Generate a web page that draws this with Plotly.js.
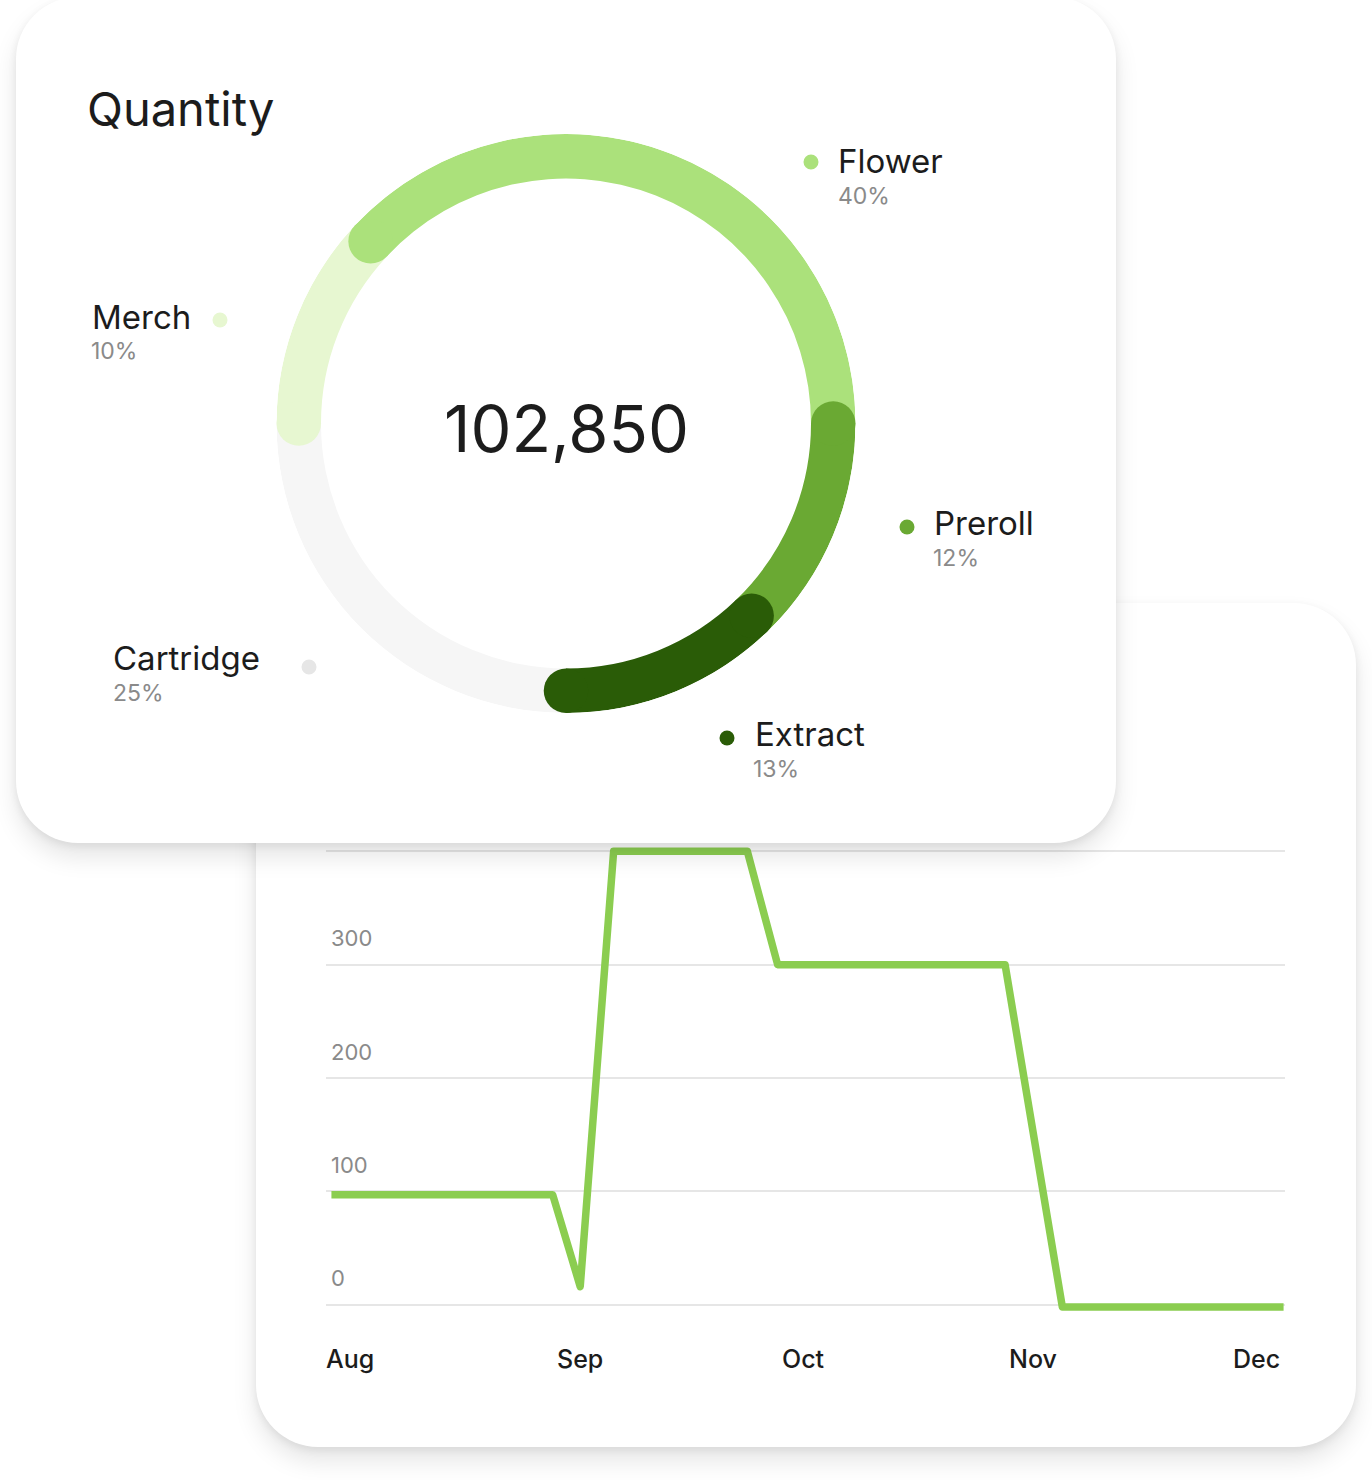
<!DOCTYPE html>
<html>
<head>
<meta charset="utf-8">
<script src="https://cdn.plot.ly/plotly-3.0.1.min.js"></script>
<style>
  html, body { margin: 0; padding: 0; background: #fff; width: 1372px; height: 1480px; overflow: hidden; }
  .card {
    position: absolute;
    background: #fff;
    border-radius: 62px;
    overflow: hidden;
    box-shadow: 0 14px 24px rgba(0, 0, 0, 0.10), 0 3px 8px rgba(0, 0, 0, 0.07);
  }
  #back { left: 256px; top: 603px; width: 1100px; height: 844px; z-index: 1; }
  #front { left: 16px; top: -3px; width: 1100px; height: 846px; z-index: 2; }
  #line path.js-line { stroke-linejoin: round !important; }
</style>
</head>
<body>
<div id="back" class="card"><div id="line"></div></div>
<div id="front" class="card"><div id="donut"></div></div>

<script>
// donut data
const categories = ['Cartridge', 'Merch', 'Flower', 'Preroll', 'Extract'];
const sliceQty = [25710, 12290, 39140, 13140, 12570];
const shareLabels = ['25%', '10%', '40%', '12%', '13%'];
const sliceColors = ['#f6f6f6', '#e7f7d1', '#abe17b', '#6aa933', '#2a5c07'];
const dotColors = ['#e6e6e6', '#e7f7d1', '#abe17b', '#6aa933', '#2a5c07'];
const totalQty = 102850;

// line data
const dates = ['2023-07-29 12:00', '2023-08-28 07:00', '2023-09-01 00:00', '2023-09-05 12:00',
  '2023-09-23 12:00', '2023-09-27 14:00', '2023-10-28 05:00', '2023-11-04 22:00', '2023-12-04 17:00'];
const qty = [97, 97, 16, 400, 400, 300, 300, -2, -2];
const monthTicks = ['2023-08-01', '2023-09-01', '2023-10-01', '2023-11-01', '2023-12-01'];
const monthLabels = ['Aug', 'Sep', 'Oct', 'Nov', 'Dec'];
const yRange = [-13.5, 427.6];

const FONT = 'Inter, "Noto Sans", sans-serif';

// ---------- donut ----------
const W = 1100, H = 846;
const cx = 550, cy = 426.5, R = 289.5;
const inner = 245 / R, band = 44.5 / R, mid = inner + band / 2;

let start = 180;
const starts = [], centers = [], widths = [];
sliceQty.forEach(q => {
  const w = q / totalQty * 360;
  starts.push(start);
  centers.push(start + w / 2);
  widths.push(w);
  start += w;
});

const arcs = {
  type: 'barpolar',
  theta: centers,
  width: widths,
  r: sliceQty.map(() => band),
  base: sliceQty.map(() => inner),
  marker: {color: sliceColors, line: {width: 0}},
  hoverinfo: 'skip'
};

// round caps: each slice starts over the previous one, the last one also ends rounded
const capTheta = starts.slice(1).concat([starts[4] + widths[4]]);
const capColors = sliceColors.slice(1).concat([sliceColors[4]]);
const caps = {
  type: 'scatterpolar',
  mode: 'markers',
  theta: capTheta,
  r: capTheta.map(() => mid),
  marker: {size: 44.5, color: capColors, line: {width: 0}},
  hoverinfo: 'skip'
};

// page coords -> card paper coords
const px = (x) => (x - 16) / W;
const py = (y) => 1 - (y + 3) / H;

function label(x, y, text, size, color) {
  return {xref: 'paper', yref: 'paper', x: px(x), y: py(y), text: text, showarrow: false,
    xanchor: 'left', yanchor: 'middle', font: {family: FONT, size: size, color: color}};
}

const labelPos = [
  {name: [113, 658], pct: [113, 693], dot: [309, 667]},
  {name: [92, 317], pct: [91, 351], dot: [220, 320]},
  {name: [838, 161], pct: [838, 196], dot: [811, 162]},
  {name: [934, 523], pct: [933, 558], dot: [907, 527]},
  {name: [755, 734], pct: [753, 769], dot: [727, 738]}
];

const annotations = [
  label(85, 108, 'Quantity', 47, '#1c1c1c'),
  {xref: 'paper', yref: 'paper', x: px(566), y: py(428), text: totalQty.toLocaleString('en-US'),
    showarrow: false, xanchor: 'center', yanchor: 'middle',
    font: {family: FONT, size: 65, color: '#1c1c1c'}}
];
const shapes = [];
categories.forEach((c, i) => {
  const p = labelPos[i];
  annotations.push(label(p.name[0] - 2, p.name[1], c, 33, '#1c1c1c'));
  annotations.push(label(p.pct[0] - 2, p.pct[1], shareLabels[i], 23, '#8a8a8a'));
  const r = 7.5;
  shapes.push({type: 'circle', xref: 'paper', yref: 'paper', layer: 'above',
    x0: px(p.dot[0] - r), x1: px(p.dot[0] + r), y0: py(p.dot[1] + r), y1: py(p.dot[1] - r),
    fillcolor: dotColors[i], line: {width: 0}});
});

Plotly.newPlot('donut', [arcs, caps], {
  width: W, height: H,
  margin: {l: 0, r: 0, t: 0, b: 0},
  paper_bgcolor: 'rgba(0,0,0,0)',
  showlegend: false,
  polar: {
    domain: {x: [(cx - R) / W, (cx + R) / W], y: [(H - cy - R) / H, (H - cy + R) / H]},
    bgcolor: 'rgba(0,0,0,0)',
    bargap: 0,
    radialaxis: {visible: false, range: [0, 1]},
    angularaxis: {rotation: 90, direction: 'clockwise', showline: false, showgrid: false,
      ticks: '', showticklabels: false}
  },
  annotations: annotations,
  shapes: shapes
}, {staticPlot: true});

// ---------- line ----------
const trend = {
  type: 'scatter',
  mode: 'lines',
  x: dates,
  y: qty,
  line: {color: '#8bcd50', width: 7.5, shape: 'linear'},
  hoverinfo: 'skip'
};

// month labels placed on the date scale (the first axis label gets dropped next to the inside y labels)
const monthAnn = monthTicks.map((d, i) => ({
  xref: 'x', yref: 'paper', x: d, y: -0.078, text: monthLabels[i], showarrow: false,
  xanchor: 'center', yanchor: 'middle',
  font: {family: FONT, size: 25, color: '#1c1c1c', weight: 500}
}));

Plotly.newPlot('line', [trend], {
  width: 1100, height: 844,
  margin: {l: 70, r: 71, t: 217, b: 127},
  paper_bgcolor: 'rgba(0,0,0,0)',
  plot_bgcolor: 'rgba(0,0,0,0)',
  showlegend: false,
  xaxis: {
    type: 'date',
    range: ['2023-07-28 18:27', '2023-12-04 21:36'],
    tickmode: 'array', tickvals: monthTicks,
    showticklabels: false,
    showgrid: false, zeroline: false, showline: false, ticks: ''
  },
  yaxis: {
    range: yRange,
    dtick: 100, tick0: 0,
    showgrid: true, gridcolor: '#e6e6e6', gridwidth: 2,
    zeroline: false, showline: false, ticks: '',
    ticklabelposition: 'inside',
    ticklabelshift: -26,
    ticklabelstandoff: 2,
    tickfont: {family: FONT, size: 22, color: '#8a8a8a'}
  },
  annotations: monthAnn
}, {staticPlot: true});
</script>
</body>
</html>
